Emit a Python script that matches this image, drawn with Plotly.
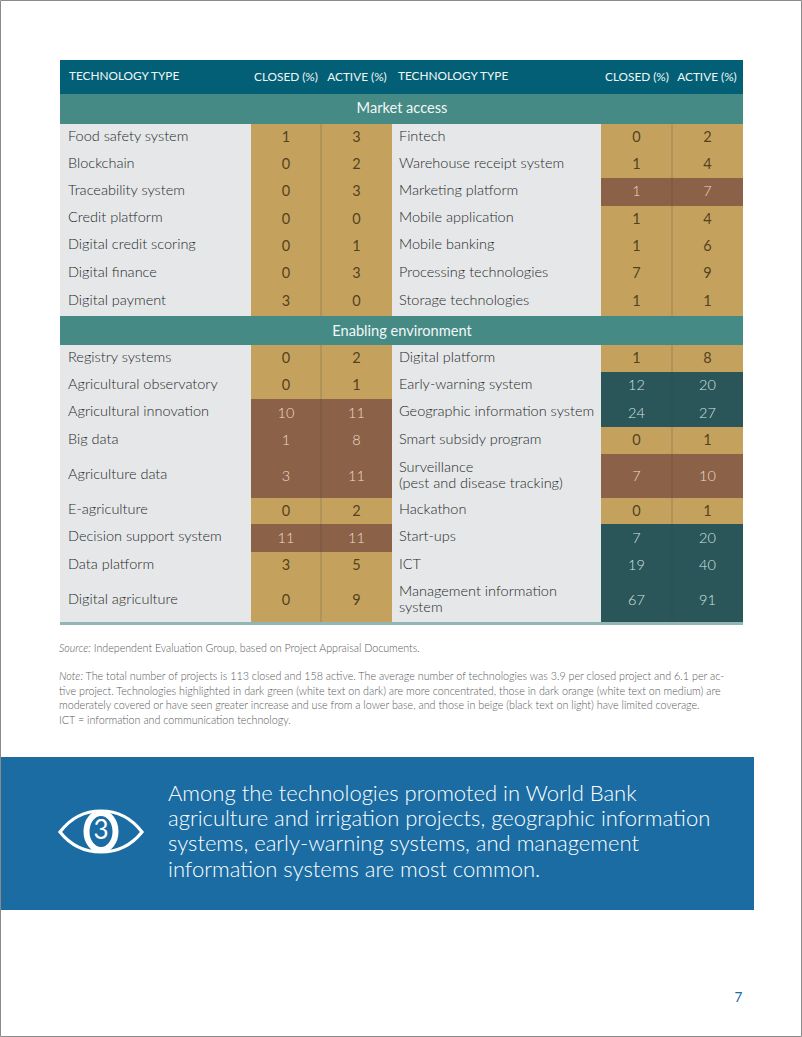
import plotly.graph_objects as go

FONT = "Lato"
BEIGE, BROWN, DARK = "#C4A25E", "#8B6147", "#2A5559"
HEAD, BAND, GREY, STRIP, BLUE = "#025F75", "#458A85", "#E6E7E8", "#92B5B5", "#1A6CA3"

header_left = ["TECHNOLOGY TYPE", "CLOSED (%)", "ACTIVE (%)"]
header_right = ["TECHNOLOGY TYPE", "CLOSED (%)", "ACTIVE (%)"]
band_names = ["Market access", "Enabling environment"]

market_left = ["Food safety system", "Blockchain", "Traceability system", "Credit platform",
               "Digital credit scoring", "Digital finance", "Digital payment"]
market_left_closed = [1, 0, 0, 0, 0, 0, 3]
market_left_active = [3, 2, 3, 0, 1, 3, 0]
market_left_tier = ["b"] * 7

market_right = ["Fintech", "Warehouse receipt system", "Marketing platform", "Mobile application",
                "Mobile banking", "Processing technologies", "Storage technologies"]
market_right_closed = [0, 1, 1, 1, 1, 7, 1]
market_right_active = [2, 4, 7, 4, 6, 9, 1]
market_right_tier = ["b", "b", "m", "b", "b", "b", "b"]

enabling_left = ["Registry systems", "Agricultural observatory", "Agricultural innovation", "Big data",
                 "Agriculture data", "E-agriculture", "Decision support system", "Data platform",
                 "Digital agriculture"]
enabling_left_closed = [0, 0, 10, 1, 3, 0, 11, 3, 0]
enabling_left_active = [2, 1, 11, 8, 11, 2, 11, 5, 9]
enabling_left_tier = ["b", "b", "m", "m", "m", "b", "m", "b", "b"]

enabling_right = ["Digital platform", "Early-warning system", "Geographic information system",
                  "Smart subsidy program", "Surveillance<br>(pest and disease tracking)", "Hackathon",
                  "Start-ups", "ICT", "Management information<br>system"]
enabling_right_closed = [1, 12, 24, 0, 7, 0, 7, 19, 67]
enabling_right_active = [8, 20, 27, 1, 10, 1, 20, 40, 91]
enabling_right_tier = ["b", "d", "d", "b", "m", "b", "d", "d", "d"]

source_line = "<i>Source:</i> Independent Evaluation Group, based on Project Appraisal Documents."
note_lines = [
    "<i>Note:</i> The total number of projects is 113 closed and 158 active. The average number of technologies was 3.9 per closed project and 6.1 per ac-",
    "tive project. Technologies highlighted in dark green (white text on dark) are more concentrated, those in dark orange (white text on medium) are",
    "moderately covered or have seen greater increase and use from a lower base, and those in beige (black text on light) have limited coverage.",
    "ICT = information and communication technology.",
]
callout_lines = [
    "Among the technologies promoted in World Bank",
    "agriculture and irrigation projects, geographic information",
    "systems, early-warning systems, and management",
    "information systems are most common.",
]
page_number = "7"

# geometry in page pixels
market_edges = [124, 151, 178, 205.5, 232.5, 259.5, 287, 316]
enabling_edges = [345, 372, 399, 427, 454, 498, 524, 552, 579, 622]
COLS_L = (60, 251, 321, 392)
COLS_R = (392, 601, 672, 743)
TIER = {"b": BEIGE, "m": BROWN, "d": DARK}
INK = {"b": "#54421f", "m": "#EBDCCB", "d": "#D5E4E2"}
INK_WEIGHT = {"b": 400, "m": 300, "d": 300}

fig = go.Figure()


def block(x0, x1, y0, y1, color):
    fig.add_trace(go.Bar(y=[(y0 + y1) / 2], x=[x1 - x0], base=[x0], width=[y1 - y0], orientation="h",
                         marker=dict(color=color, line=dict(width=0)), hoverinfo="skip", showlegend=False))


def label(xs, ys, texts, size, color, pos="middle center", weight=400):
    fig.add_trace(go.Scatter(x=xs, y=ys, text=texts, mode="text", textposition=pos, hoverinfo="skip",
                             textfont=dict(family=FONT, size=size, color=color, weight=weight), showlegend=False))


block(0, 754, 757, 910, BLUE)
block(60, 743, 60, 94, HEAD)
block(60, 743, 94, 124, BAND)
block(60, 743, 316, 345, BAND)
block(60, 743, 622, 625, STRIP)
block(60, 251, 124, 316, GREY)
block(392, 601, 124, 316, GREY)
block(60, 251, 345, 622, GREY)
block(392, 601, 345, 622, GREY)


def section(edges, cols, names, closed, active, tier, tx):
    mids = [(a + b) / 2 for a, b in zip(edges, edges[1:])]
    for i, t in enumerate(tier):
        block(cols[1], cols[3], edges[i], edges[i + 1], TIER[t])
    fig.add_shape(type="line", x0=cols[2], x1=cols[2], y0=edges[0], y1=edges[-1],
                  line=dict(color="rgba(70,70,60,0.3)", width=1))
    xs, ys, ts = [], [], []
    for name, m in zip(names, mids):
        parts = name.split("<br>")
        offs = [-0.3] if len(parts) == 1 else [-7.8, 8.2]
        for p, o in zip(parts, offs):
            xs.append(tx)
            ys.append(m + o)
            ts.append(p)
    label(xs, ys, ts, 14.5, "#25292b", "middle right", 300)
    xc = (cols[1] + cols[2]) / 2
    xa = (cols[2] + cols[3]) / 2
    for t in "bmd":
        idx = [i for i, v in enumerate(tier) if v == t]
        if idx:
            label([xc] * len(idx), [mids[i] + 1 for i in idx], [str(closed[i]) for i in idx], 14.5, INK[t],
                  weight=INK_WEIGHT[t])
            label([xa] * len(idx), [mids[i] + 1 for i in idx], [str(active[i]) for i in idx], 14.5, INK[t],
                  weight=INK_WEIGHT[t])


section(market_edges, COLS_L, market_left, market_left_closed, market_left_active, market_left_tier, 68)
section(market_edges, COLS_R, market_right, market_right_closed, market_right_active, market_right_tier, 399)
section(enabling_edges, COLS_L, enabling_left, enabling_left_closed, enabling_left_active, enabling_left_tier, 68)
section(enabling_edges, COLS_R, enabling_right, enabling_right_closed, enabling_right_active, enabling_right_tier, 399)

# header
label([69, 398], [77.5, 77.5], [header_left[0], header_right[0]], 11.8, "#F2F7F8", "middle right", 400)
label([286, 357, 637, 707], [78, 78, 78, 78],
      [header_left[1], header_left[2], header_right[1], header_right[2]], 11.8, "#F2F7F8", weight=400)
label([402, 402], [109, 332], band_names, 14.6, "#F2F8F7", weight=400)

# notes
label([59], [649], [source_line], 10.7, "#58595b", "middle right", 300)
label([59] * 4, [677, 692, 706.5, 721], note_lines, 10.75, "#58595b", "middle right", 300)

# callout
label([168] * 4, [795.5, 820.5, 845.5, 871], callout_lines, 22, "#FFFFFF", "middle right", 300)
label([738.5], [999], [page_number], 13.5, BLUE)

# eye icon
fig.add_shape(type="path", path="M 60 832 Q 76 811 101 811 Q 126 811 142 832 Q 126 852 101 852 Q 76 852 60 832 Z",
              line=dict(color="#FFFFFF", width=3.2), fillcolor="rgba(0,0,0,0)")
fig.add_shape(type="circle", x0=86.5, x1=115.5, y0=813, y1=850, fillcolor="rgba(0,0,0,0)",
              line=dict(color="#FFFFFF", width=6))
label([101], [832], ["3"], 26, "#FFFFFF")

# page edge
fig.add_shape(type="rect", x0=0.5, x1=801.5, y0=0.5, y1=1036.5, line=dict(color="#8a8a8a", width=1),
              fillcolor="rgba(0,0,0,0)")

fig.update_xaxes(range=[0, 802], visible=False, fixedrange=True)
fig.update_yaxes(range=[1037, 0], visible=False, fixedrange=True)
fig.update_layout(width=802, height=1037, margin=dict(l=0, r=0, t=0, b=0), plot_bgcolor="#FFFFFF",
                  paper_bgcolor="#FFFFFF", barmode="overlay", bargap=0, showlegend=False)
fig.write_html("out.html", config={"displayModeBar": False},
               post_script="document.body.style.margin='0';document.documentElement.style.overflow='hidden';")
